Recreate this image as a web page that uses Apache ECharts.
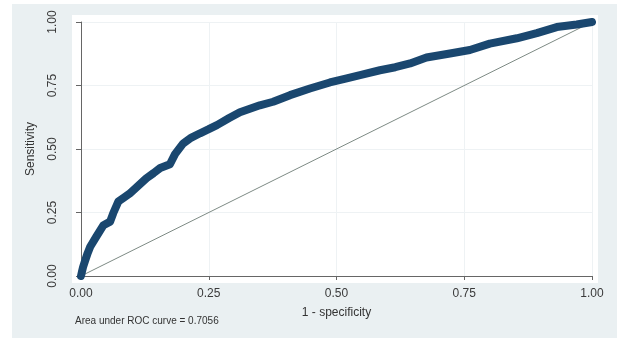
<!DOCTYPE html>
<html>
<head>
<meta charset="utf-8">
<script src="https://cdn.jsdelivr.net/npm/echarts@6/dist/echarts.min.js"></script>
<style>
html,body{margin:0;padding:0;background:#ffffff;}
#chart{width:617px;height:340px;}
</style>
</head>
<body>
<div id="chart"></div>
<script>
// ROC curve values
const fpr = [0, 0.002, 0.004, 0.008, 0.013, 0.018, 0.03, 0.044, 0.057, 0.063, 0.073, 0.085, 0.096, 0.112, 0.128, 0.142, 0.155, 0.174, 0.184, 0.2, 0.216, 0.233, 0.25, 0.266, 0.29, 0.311, 0.35, 0.376, 0.409, 0.448, 0.487, 0.52, 0.55, 0.585, 0.615, 0.644, 0.676, 0.722, 0.761, 0.8, 0.853, 0.892, 0.931, 0.97, 1];
const tpr = [0, 0.018, 0.035, 0.06, 0.09, 0.115, 0.155, 0.2, 0.214, 0.247, 0.293, 0.31, 0.326, 0.355, 0.385, 0.405, 0.425, 0.44, 0.48, 0.522, 0.545, 0.562, 0.578, 0.594, 0.622, 0.645, 0.672, 0.686, 0.712, 0.738, 0.762, 0.778, 0.793, 0.81, 0.822, 0.837, 0.86, 0.876, 0.89, 0.915, 0.936, 0.956, 0.98, 0.99, 1];
const refX = [0, 1];
const refY = [0, 1];
const xTitle = '1 - specificity';
const yTitle = 'Sensitivity';
const aucNote = 'Area under ROC curve = 0.7056';

const chart = echarts.init(document.getElementById('chart'), null, {renderer: 'canvas'});
const font = 'Liberation Sans, Arial, sans-serif';
const fmt = v => v.toFixed(2);

chart.setOption({
  animation: false,
  backgroundColor: '#ffffff',
  graphic: [
    {type: 'rect', z: -10, silent: true, shape: {x: 12, y: 4, width: 605, height: 334}, style: {fill: '#eaf0f2'}},
    {type: 'rect', z: -9, silent: true, shape: {x: 72, y: 15, width: 526, height: 268}, style: {fill: '#ffffff'}},
    {type: 'text', z: 10, left: 75, top: 316, style: {text: aucNote, font: '10px ' + font, fill: '#333333'}}
  ],
  grid: {left: 81, right: 25, top: 22, bottom: 64, containLabel: false},
  xAxis: {
    type: 'value', min: 0, max: 1, interval: 0.25, offset: 7,
    name: xTitle, nameLocation: 'middle', nameGap: 24,
    nameTextStyle: {fontFamily: font, fontSize: 12, color: '#333333'},
    axisLine: {show: true, lineStyle: {color: '#666666', width: 1}},
    axisTick: {show: true, length: 4, lineStyle: {color: '#666666'}},
    axisLabel: {margin: 5, formatter: fmt, fontFamily: font, fontSize: 12, color: '#3a3a3a'},
    splitLine: {show: true, lineStyle: {color: '#eef2f4', width: 1}}
  },
  yAxis: {
    type: 'value', min: 0, max: 1, interval: 0.25, offset: 9,
    name: yTitle, nameLocation: 'middle', nameGap: 35, nameRotate: 90,
    nameTextStyle: {fontFamily: font, fontSize: 12, color: '#333333'},
    axisLine: {show: true, lineStyle: {color: '#666666', width: 1}},
    axisTick: {show: true, length: 5, lineStyle: {color: '#666666'}},
    axisLabel: {margin: 13, rotate: 90, formatter: fmt, fontFamily: font, fontSize: 12, color: '#3a3a3a'},
    splitLine: {show: true, lineStyle: {color: '#eef2f4', width: 1}}
  },
  series: [
    {
      type: 'line', z: 2,
      data: refX.map((x, i) => [x, refY[i]]),
      symbol: 'none',
      lineStyle: {color: '#7d8a84', width: 1}
    },
    {
      type: 'line', z: 3,
      data: fpr.map((x, i) => [x, tpr[i]]),
      symbol: 'none',
      lineStyle: {color: '#1a476f', width: 8, cap: 'round', join: 'round'}
    }
  ]
});
</script>
</body>
</html>
